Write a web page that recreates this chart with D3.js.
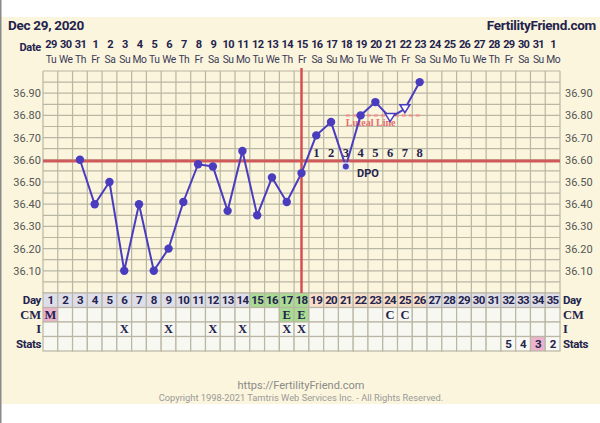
<!DOCTYPE html>
<html><head><meta charset="utf-8">
<script src="https://cdn.jsdelivr.net/npm/d3@7"></script>
<style>body{margin:0;background:#fff}svg{display:block}</style>
</head><body>
<script>
const days = d3.range(1, 36);
const dateLabels = ["29","30","31","1","2","3","4","5","6","7","8","9","10","11","12","13","14","15","16","17","18","19","20","21","22","23","24","25","26","27","28","29","30","31","1"];
const weekdays = ["Tu","We","Th","Fr","Sa","Su","Mo"];
const tempDays = [3,4,5,6,7,8,9,10,11,12,13,14,15,16,17,18,19,20,21,22,23,24,25,26];
const temps =    [36.60,36.40,36.50,36.10,36.40,36.10,36.20,36.41,36.58,36.57,36.37,36.64,36.35,36.52,36.41,36.54,36.71,36.77,36.57,36.80,36.86,36.79,36.83,36.95];
const openDays = [24,25];
const yTicks = [36.10,36.20,36.30,36.40,36.50,36.60,36.70,36.80,36.90];
const coverline = 36.595;
const ovulationDay = 18;
const lutealLine = {from:21, to:26, value:36.80};
const dpoLabels = ["1","2","3","4","5","6","7","8"];
const dpoStart = 19;
const cmData = {1:"M",17:"E",18:"E",24:"C",25:"C"};
const intercourseDays = [6,9,12,14,17,18];
const statsData = {32:"5",33:"4",34:"3",35:"2"};
const fertileDays = [15,16,17,18];
const lutealDays = [19,20,21,22,23,24,25,26];

const W=600,H=423;
const svg=d3.select("body").append("svg").attr("width",W).attr("height",H);
const navy="#23234d", purple="#4a3cbf", grid="#b9b6a3";
svg.append("rect").attr("x",0).attr("y",17).attr("width",W).attr("height",387).attr("fill","#faf5dc");
svg.append("rect").attr("x",0).attr("y",0).attr("width",1.5).attr("height",H).attr("fill","#8a8a8a");

const x=d3.scaleLinear().domain([0.5,35.5]).range([43,560]);
const y=d3.scaleLinear().domain([36.0,37.0]).range([293,71]);
const cw=x(2)-x(1);

// header
svg.append("text").attr("x",8).attr("y",30).text("Dec 29, 2020").attr("font-family","Roboto").attr("font-weight","bold").attr("font-size",13.5).attr("letter-spacing",-0.3).attr("fill",navy);
svg.append("text").attr("x",596).attr("y",30).attr("text-anchor","end").text("FertilityFriend.com").attr("font-family","Roboto").attr("font-weight","bold").attr("font-size",13.5).attr("letter-spacing",-0.3).attr("fill",navy);
svg.append("text").attr("x",41).attr("y",51).attr("text-anchor","end").text("Date").attr("font-family","Roboto").attr("font-weight","bold").attr("font-size",11).attr("letter-spacing",-0.3).attr("fill",navy);

// date axis
const dateAxis=d3.axisTop(x).tickValues(days).tickSize(0).tickPadding(0).tickFormat((d,i)=>dateLabels[i]);
const gDate=svg.append("g").attr("transform","translate(0,48)").call(dateAxis);
gDate.select(".domain").remove();
gDate.selectAll("text").attr("font-family","Roboto").attr("font-weight","bold").attr("font-size",11).attr("letter-spacing",-0.7).attr("fill",navy).attr("dy",0);
const wdAxis=d3.axisTop(x).tickValues(days).tickSize(0).tickPadding(0).tickFormat((d,i)=>weekdays[i%7]);
const gWd=svg.append("g").attr("transform","translate(0,62.5)").call(wdAxis);
gWd.select(".domain").remove();
gWd.selectAll("text").attr("font-family","Roboto").attr("font-size",10.3).attr("letter-spacing",-0.5).attr("fill","#3a3a5a").attr("dy",0);

// grid
const gGrid=svg.append("g");
gGrid.selectAll(".hl").data(d3.range(0,21)).join("line")
  .attr("x1",x(0.5)).attr("x2",x(35.5)).attr("y1",d=>y(36+d*0.05)).attr("y2",d=>y(36+d*0.05))
  .attr("stroke",grid).attr("stroke-width",1.2);
gGrid.selectAll(".vl").data(d3.range(0,36)).join("line")
  .attr("x1",d=>x(d+0.5)).attr("x2",d=>x(d+0.5)).attr("y1",y(37)).attr("y2",y(36))
  .attr("stroke",grid).attr("stroke-width",1.2);

// y axes
function styleAxis(g){g.select(".domain").remove();g.selectAll("line").remove();
  g.selectAll("text").attr("font-family","Roboto").attr("font-size",11).attr("fill","#555");}
svg.append("g").attr("transform","translate(41,0)").call(d3.axisLeft(y).tickValues(yTicks).tickSize(0).tickPadding(0).tickFormat(d3.format(".2f"))).call(styleAxis);
svg.append("g").attr("transform","translate(565,0)").call(d3.axisRight(y).tickValues(yTicks).tickSize(0).tickPadding(0).tickFormat(d3.format(".2f"))).call(styleAxis);

// table
const rowTop=293, rh=14.5;
const rows=["Day","CM","I","Stats"];
const tbl=svg.append("g");
rows.forEach((r,ri)=>{
  const ry=rowTop+ri*rh;
  days.forEach(d=>{
    let fill="#f8f8f2";
    if(ri===0){fill = fertileDays.includes(d)?"#a9dc92": lutealDays.includes(d)?"#f8dfcb":"#dedeea";}
    if(ri===1){ if(d===1) fill="#ecb3cc"; else if(fertileDays.includes(d)&&cmData[d]) fill="#a9dc92";}
    if(ri===3 && d===34) fill="#ecb3cc";
    tbl.append("rect").attr("x",x(d-0.5)).attr("y",ry).attr("width",cw).attr("height",rh)
      .attr("fill",fill).attr("stroke",grid).attr("stroke-width",1.2);
    let t=null, serif=true;
    if(ri===0){t=String(d);serif=false;}
    if(ri===1&&cmData[d]) t=cmData[d];
    if(ri===2&&intercourseDays.includes(d)) t="X";
    if(ri===3&&statsData[d]){t=statsData[d];serif=false;}
    if(t) tbl.append("text").attr("x",x(d)).attr("y",ry+11.3).attr("text-anchor","middle").text(t)
      .attr("font-family",serif?"Liberation Serif":"Roboto").attr("font-weight","bold")
      .attr("letter-spacing",serif?0:-0.7)
      .attr("font-size",serif?12.5:11.5).attr("fill",navy);
  });
  const serifLab = (r==="CM"||r==="I");
  [[41,"end"],[563,"start"]].forEach(([lx,anc])=>{
    tbl.append("text").attr("x",lx).attr("y",ry+11.3).attr("text-anchor",anc).text(r)
      .attr("font-family",serifLab?"Liberation Serif":"Roboto").attr("font-weight","bold")
      .attr("letter-spacing",serifLab?0:-0.4)
      .attr("font-size",serifLab?12.5:11.5).attr("fill",navy);
  });
});

// coverline & ovulation
svg.append("line").attr("x1",x(0.5)).attr("x2",x(35.5)).attr("y1",y(coverline)).attr("y2",y(coverline))
  .attr("stroke","#cf5a5a").attr("stroke-width",3);
svg.append("line").attr("x1",x(ovulationDay)).attr("x2",x(ovulationDay)).attr("y1",y(37)-3).attr("y2",rowTop)
  .attr("stroke","#d45050").attr("stroke-width",2.5);

// luteal line
svg.append("line").attr("x1",x(lutealLine.from)).attr("x2",x(lutealLine.to)).attr("y1",y(lutealLine.value)).attr("y2",y(lutealLine.value))
  .attr("stroke","#f08a8a").attr("stroke-width",2).attr("stroke-dasharray","4,3");
svg.append("text").attr("x",x(lutealLine.from)).attr("y",y(lutealLine.value)+11).text("Luteal Line")
  .attr("font-family","Liberation Serif").attr("font-weight","bold").attr("font-size",10).attr("fill","#e86e6e");

// DPO labels
dpoLabels.forEach((t,i)=>{
  svg.append("text").attr("x",x(dpoStart+i)).attr("y",157).attr("text-anchor","middle").text(t)
    .attr("font-family","Liberation Serif").attr("font-weight","bold").attr("font-size",12.5).attr("fill",navy);
});
svg.append("text").attr("x",357).attr("y",177).text("DPO").attr("font-family","Roboto").attr("font-weight","bold").attr("font-size",11).attr("fill",navy);

// temperature line
const pts=tempDays.map((d,i)=>({d,t:temps[i]}));
svg.append("path").datum(pts).attr("fill","none").attr("stroke",purple).attr("stroke-width",2)
  .attr("d",d3.line().x(p=>x(p.d)).y(p=>y(p.t)));
pts.forEach(p=>{
  const cx=x(p.d), cy=y(p.t);
  if(openDays.includes(p.d)){
    svg.append("path").attr("d",`M${cx-5},${cy-4}L${cx+5},${cy-4}L${cx},${cy+4}Z`)
      .attr("fill","#fff").attr("stroke",purple).attr("stroke-width",1.5);
  } else if(p.d===21){
    svg.append("rect").attr("x",cx-4).attr("y",cy-4).attr("width",8).attr("height",8).attr("fill","#e6e6ee");
    svg.append("circle").attr("cx",cx).attr("cy",cy).attr("r",3).attr("fill",purple);
  } else {
    svg.append("circle").attr("cx",cx).attr("cy",cy).attr("r",4.2).attr("fill",purple);
  }
});

// footer
svg.append("text").attr("x",301).attr("y",389).attr("text-anchor","middle").text("https://FertilityFriend.com")
  .attr("font-family","Roboto").attr("font-size",11).attr("fill","#8a8a8a");
svg.append("text").attr("x",301).attr("y",400.5).attr("text-anchor","middle").text("Copyright 1998-2021 Tamtris Web Services Inc. - All Rights Reserved.")
  .attr("font-family","Roboto").attr("font-size",9.3).attr("fill","#9a9a9a");
</script>
</body></html>
